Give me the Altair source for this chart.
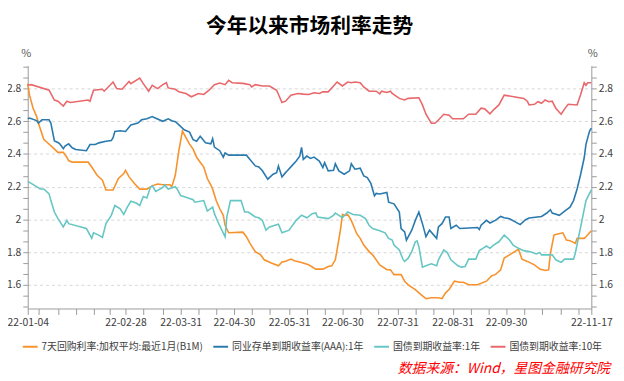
import altair as alt
import pandas as pd

TITLE = "今年以来市场利率走势"
SOURCE = "数据来源：Wind，星图金融研究院"
names = ["7天回购利率:加权平均:最近1月(B1M)", "同业存单到期收益率(AAA):1年",
         "国债到期收益率:1年", "国债到期收益率:10年"]
colors = ["#F7922C", "#2A7AAE", "#66C6C4", "#E8686B"]

repo = [("01-04", 2.83), ("01-05", 2.76), ("01-07", 2.68), ("01-09", 2.63), ("01-10", 2.59),
        ("01-13", 2.49), ("01-15", 2.47), ("01-18", 2.44), ("01-21", 2.41), ("01-24", 2.41),
        ("01-26", 2.38), ("01-27", 2.36), ("01-29", 2.35), ("02-07", 2.35), ("02-09", 2.32),
        ("02-12", 2.27), ("02-15", 2.24), ("02-17", 2.18), ("02-21", 2.18), ("02-24", 2.25),
        ("02-27", 2.28), ("02-28", 2.30), ("03-02", 2.26), ("03-05", 2.22), ("03-08", 2.185),
        ("03-12", 2.185), ("03-15", 2.205), ("03-18", 2.216), ("03-21", 2.212), ("03-25", 2.212),
        ("03-26", 2.20), ("03-28", 2.27), ("03-30", 2.42), ("03-31", 2.48), ("04-01", 2.54),
        ("04-03", 2.50), ("04-05", 2.46), ("04-07", 2.43), ("04-09", 2.38), ("04-11", 2.35),
        ("04-13", 2.32), ("04-15", 2.25), ("04-17", 2.21), ("04-18", 2.185), ("04-20", 2.115),
        ("04-22", 2.065), ("04-24", 2.025), ("04-25", 1.964), ("04-27", 1.918), ("05-05", 1.922),
        ("05-07", 1.894), ("05-09", 1.853), ("05-12", 1.803), ("05-15", 1.783), ("05-17", 1.753),
        ("05-21", 1.733), ("05-25", 1.716), ("05-27", 1.74), ("05-29", 1.744), ("06-01", 1.757),
        ("06-03", 1.747), ("06-07", 1.737), ("06-11", 1.722), ("06-15", 1.696), ("06-19", 1.696),
        ("06-22", 1.712), ("06-24", 1.716), ("06-26", 1.753), ("06-27", 1.813), ("06-29", 1.944),
        ("06-30", 2.03), ("07-02", 2.024), ("07-03", 2.03), ("07-05", 1.994), ("07-08", 1.914),
        ("07-10", 1.884), ("07-12", 1.843), ("07-15", 1.803), ("07-17", 1.783), ("07-21", 1.722),
        ("07-25", 1.692), ("07-27", 1.692), ("07-29", 1.662), ("08-02", 1.662), ("08-04", 1.622),
        ("08-06", 1.60), ("08-10", 1.57), ("08-13", 1.541), ("08-16", 1.515), ("08-19", 1.521),
        ("08-23", 1.521), ("08-25", 1.515), ("08-27", 1.551), ("08-29", 1.571), ("09-01", 1.622),
        ("09-04", 1.616), ("09-06", 1.616), ("09-09", 1.60), ("09-14", 1.60), ("09-19", 1.622),
        ("09-22", 1.656), ("09-24", 1.662), ("09-27", 1.692), ("09-29", 1.763), ("10-02", 1.783),
        ("10-07", 1.817), ("10-09", 1.757), ("10-12", 1.743), ("10-16", 1.722), ("10-19", 1.696),
        ("10-22", 1.688), ("10-24", 1.692), ("10-25", 1.793), ("10-27", 1.904), ("10-29", 1.91),
        ("11-01", 1.918), ("11-03", 1.874), ("11-05", 1.87), ("11-08", 1.853), ("11-09", 1.884),
        ("11-13", 1.884), ("11-14", 1.894), ("11-17", 1.93)]

ncd = [("01-04", 2.615), ("01-05", 2.62), ("01-09", 2.604), ("01-10", 2.589), ("01-12", 2.609),
       ("01-16", 2.609), ("01-17", 2.589), ("01-19", 2.48), ("01-21", 2.47), ("01-22", 2.462),
       ("01-24", 2.433), ("01-25", 2.448), ("01-27", 2.462), ("01-29", 2.438), ("01-31", 2.427),
       ("02-06", 2.42), ("02-08", 2.458), ("02-11", 2.458), ("02-13", 2.468), ("02-17", 2.478),
       ("02-20", 2.482), ("02-21", 2.50), ("02-22", 2.538), ("02-25", 2.542), ("02-28", 2.538),
       ("03-03", 2.578), ("03-07", 2.589), ("03-09", 2.609), ("03-12", 2.615), ("03-15", 2.629),
       ("03-17", 2.619), ("03-21", 2.60), ("03-24", 2.615), ("03-26", 2.603), ("03-28", 2.598),
       ("03-29", 2.589), ("04-02", 2.548), ("04-05", 2.534), ("04-07", 2.488), ("04-09", 2.478),
       ("04-11", 2.508), ("04-14", 2.468), ("04-17", 2.462), ("04-18", 2.494), ("04-19", 2.442),
       ("04-22", 2.42), ("04-24", 2.381), ("04-25", 2.407), ("04-27", 2.393), ("05-07", 2.393),
       ("05-09", 2.367), ("05-12", 2.327), ("05-14", 2.321), ("05-16", 2.297), ("05-19", 2.246),
       ("05-22", 2.276), ("05-24", 2.286), ("05-25", 2.327), ("05-27", 2.26), ("05-29", 2.286),
       ("05-30", 2.297), ("06-01", 2.321), ("06-04", 2.357), ("06-06", 2.387), ("06-07", 2.44),
       ("06-08", 2.367), ("06-10", 2.387), ("06-12", 2.373), ("06-14", 2.381), ("06-17", 2.357),
       ("06-19", 2.317), ("06-20", 2.347), ("06-22", 2.297), ("06-25", 2.30), ("06-26", 2.34),
       ("06-28", 2.297), ("07-01", 2.276), ("07-04", 2.297), ("07-05", 2.34), ("07-07", 2.307),
       ("07-10", 2.313), ("07-12", 2.266), ("07-14", 2.256), ("07-16", 2.22), ("07-18", 2.145),
       ("07-19", 2.159), ("07-21", 2.155), ("07-25", 2.165), ("07-26", 2.105), ("07-29", 2.095),
       ("08-01", 2.045), ("08-02", 1.944), ("08-04", 1.924), ("08-05", 1.873), ("08-08", 1.934),
       ("08-10", 1.994), ("08-12", 2.045), ("08-14", 1.974), ("08-16", 1.894), ("08-18", 1.934),
       ("08-22", 1.884), ("08-23", 1.954), ("08-25", 1.974), ("08-26", 1.994), ("08-27", 2.015),
       ("08-29", 2.015), ("08-30", 1.944), ("09-02", 1.964), ("09-04", 1.944), ("09-14", 1.95),
       ("09-15", 1.938), ("09-16", 1.964), ("09-19", 1.994), ("09-21", 1.978), ("09-24", 1.994),
       ("09-27", 2.018), ("09-29", 2.01), ("10-02", 2.004), ("10-08", 1.968), ("10-11", 1.998),
       ("10-13", 2.008), ("10-20", 2.018), ("10-23", 2.039), ("10-25", 2.059), ("10-26", 2.039),
       ("10-30", 2.025), ("11-02", 2.051), ("11-05", 2.075), ("11-07", 2.115), ("11-09", 2.186),
       ("11-11", 2.276), ("11-13", 2.377), ("11-14", 2.46), ("11-15", 2.50), ("11-16", 2.54),
       ("11-17", 2.558)]

gov1y = [("01-04", 2.232), ("01-05", 2.226), ("01-09", 2.20), ("01-11", 2.186), ("01-13", 2.186),
         ("01-16", 2.156), ("01-17", 2.115), ("01-19", 2.045), ("01-21", 2.005), ("01-24", 1.954),
         ("01-26", 1.994), ("01-27", 1.974), ("02-06", 1.944), ("02-09", 1.884), ("02-10", 1.918),
         ("02-13", 1.904), ("02-15", 1.889), ("02-17", 1.974), ("02-20", 2.025), ("02-22", 2.085),
         ("02-25", 2.065), ("02-27", 2.03), ("03-01", 2.075), ("03-03", 2.111), ("03-06", 2.10),
         ("03-08", 2.085), ("03-10", 2.14), ("03-12", 2.131), ("03-14", 2.196), ("03-15", 2.206),
         ("03-17", 2.171), ("03-21", 2.196), ("03-22", 2.212), ("03-24", 2.186), ("03-28", 2.20),
         ("03-29", 2.186), ("03-31", 2.146), ("04-03", 2.136), ("04-07", 2.12), ("04-08", 2.105),
         ("04-13", 2.115), ("04-15", 2.051), ("04-18", 2.075), ("04-19", 2.035), ("04-21", 1.984),
         ("04-25", 1.894), ("04-26", 2.015), ("04-28", 2.115), ("05-04", 2.115), ("05-06", 2.045),
         ("05-08", 2.045), ("05-10", 2.03), ("05-12", 2.015), ("05-14", 2.01), ("05-16", 1.994),
         ("05-18", 1.934), ("05-20", 1.954), ("05-24", 1.967), ("05-25", 1.97), ("05-27", 1.918),
         ("05-31", 1.934), ("06-04", 1.994), ("06-07", 2.025), ("06-10", 2.01), ("06-13", 2.035),
         ("06-15", 2.039), ("06-16", 2.014), ("06-22", 2.005), ("06-25", 2.025), ("06-26", 2.039),
         ("06-28", 2.025), ("06-30", 2.01), ("07-03", 2.045), ("07-06", 2.03), ("07-10", 2.025),
         ("07-13", 2.005), ("07-15", 1.964), ("07-17", 1.944), ("07-21", 1.93), ("07-24", 1.918),
         ("07-26", 1.884), ("07-28", 1.874), ("07-29", 1.843), ("08-01", 1.813), ("08-03", 1.757),
         ("08-04", 1.743), ("08-06", 1.763), ("08-08", 1.803), ("08-10", 1.863), ("08-11", 1.869),
         ("08-12", 1.833), ("08-14", 1.708), ("08-16", 1.716), ("08-19", 1.728), ("08-22", 1.716),
         ("08-23", 1.753), ("08-26", 1.813), ("08-28", 1.797), ("08-30", 1.753), ("09-03", 1.716),
         ("09-05", 1.708), ("09-07", 1.712), ("09-09", 1.757), ("09-13", 1.757), ("09-15", 1.809),
         ("09-17", 1.823), ("09-19", 1.837), ("09-21", 1.823), ("09-23", 1.843), ("09-26", 1.863),
         ("09-29", 1.904), ("10-02", 1.874), ("10-04", 1.843), ("10-07", 1.823), ("10-10", 1.809),
         ("10-13", 1.803), ("10-15", 1.797), ("10-17", 1.789), ("10-19", 1.797), ("10-20", 1.783),
         ("10-26", 1.783), ("10-28", 1.753), ("10-31", 1.737), ("11-02", 1.757), ("11-07", 1.757),
         ("11-08", 1.793), ("11-11", 1.954), ("11-14", 2.115), ("11-17", 2.18)]

gov10y = [("01-04", 2.82), ("01-06", 2.824), ("01-16", 2.79), ("01-19", 2.73), ("01-21", 2.723),
          ("01-24", 2.693), ("01-26", 2.723), ("01-28", 2.715), ("02-07", 2.73), ("02-08", 2.723),
          ("02-10", 2.79), ("02-15", 2.796), ("02-16", 2.784), ("02-21", 2.84), ("02-23", 2.80),
          ("02-26", 2.796), ("03-02", 2.844), ("03-03", 2.83), ("03-08", 2.864), ("03-10", 2.83),
          ("03-13", 2.784), ("03-15", 2.82), ("03-18", 2.80), ("03-21", 2.824), ("03-23", 2.836),
          ("03-24", 2.804), ("03-28", 2.796), ("03-30", 2.78), ("04-03", 2.77), ("04-06", 2.75),
          ("04-10", 2.77), ("04-13", 2.764), ("04-16", 2.79), ("04-19", 2.824), ("04-22", 2.834),
          ("04-25", 2.824), ("04-27", 2.85), ("04-29", 2.836), ("05-05", 2.832), ("05-09", 2.824),
          ("05-10", 2.81), ("05-12", 2.824), ("05-16", 2.816), ("05-20", 2.816), ("05-24", 2.79),
          ("05-27", 2.715), ("05-29", 2.723), ("06-01", 2.76), ("06-05", 2.77), ("06-08", 2.766),
          ("06-11", 2.764), ("06-14", 2.774), ("06-17", 2.77), ("06-19", 2.78), ("06-22", 2.78),
          ("06-25", 2.816), ("06-27", 2.84), ("06-30", 2.816), ("07-03", 2.84), ("07-05", 2.836),
          ("07-07", 2.84), ("07-10", 2.836), ("07-12", 2.81), ("07-15", 2.784), ("07-19", 2.784),
          ("07-21", 2.768), ("07-22", 2.784), ("07-25", 2.776), ("07-27", 2.784), ("07-28", 2.77),
          ("08-01", 2.74), ("08-04", 2.73), ("08-06", 2.74), ("08-12", 2.744), ("08-14", 2.70),
          ("08-16", 2.643), ("08-19", 2.588), ("08-21", 2.588), ("08-23", 2.608), ("08-26", 2.643),
          ("08-29", 2.637), ("08-31", 2.615), ("09-06", 2.615), ("09-09", 2.643), ("09-13", 2.643),
          ("09-14", 2.655), ("09-16", 2.68), ("09-18", 2.676), ("09-21", 2.646), ("09-23", 2.67),
          ("09-26", 2.70), ("09-29", 2.76), ("10-10", 2.74), ("10-12", 2.723), ("10-13", 2.70),
          ("10-16", 2.704), ("10-18", 2.72), ("10-20", 2.71), ("10-22", 2.73), ("10-24", 2.72),
          ("10-26", 2.723), ("10-28", 2.68), ("10-31", 2.643), ("11-02", 2.676), ("11-04", 2.704),
          ("11-09", 2.70), ("11-11", 2.764), ("11-13", 2.836), ("11-14", 2.82), ("11-15", 2.836),
          ("11-17", 2.836)]

x_tick_dates = ["01-04", "01-10", "01-21", "01-31", "02-10", "02-19", "02-28", "03-10", "03-21",
                "03-31", "04-10", "04-20", "04-30", "05-10", "05-20", "05-31", "06-10", "06-20",
                "06-30", "07-10", "07-20", "07-31", "08-10", "08-20", "08-31", "09-10", "09-20",
                "09-30", "10-10", "10-20", "10-31", "11-10", "11-17"]
x_label_dates = ["01-04", "02-28", "03-31", "04-30", "05-31", "06-30", "07-31", "08-31",
                 "09-30", "11-17"]
y_ticks = [1.4667, 1.5333, 1.6, 1.6667, 1.7333, 1.8, 1.8667, 1.9333, 2.0, 2.0667, 2.1333,
           2.2, 2.2667, 2.3333, 2.4, 2.4667, 2.5333, 2.6, 2.6667, 2.7333, 2.8, 2.8667, 2.9333]
y_domain = [1.455, 2.94]

rows = []
for name, series in zip(names, [repo, ncd, gov1y, gov10y]):
    for d, v in series:
        rows.append({"series": name, "date": "2022-" + d + "T00:00:00", "value": v})
df = pd.DataFrame(rows)


def dt(md):
    m, d = md.split("-")
    return alt.DateTime(year=2022, month=int(m), date=int(d))


FONT = "Noto Sans CJK SC"
AXIS_GRAY = "#9a9a9a"
LABEL_COLOR = "#404040"

major_test = "abs(datum.value*5 - round(datum.value*5)) < 0.01"
label_expr = f"{major_test} ? format(round(datum.value*10)/10, '~g') : ''"
x_label_list = "[" + ",".join(f"'{d}'" for d in x_label_dates) + "]"
x_label_expr = (f"indexof({x_label_list}, timeFormat(datum.value, '%m-%d')) >= 0"
                " ? timeFormat(datum.value, '%y-%m-%d') : ''")

x_enc = alt.X(
    "date:T",
    scale=alt.Scale(domain=[dt("01-04"), dt("11-17")]),
    axis=alt.Axis(values=[dt(d) for d in x_tick_dates], labelExpr=x_label_expr, title=None,
                  grid=False, tickSize=6, tickColor=AXIS_GRAY, domainColor=AXIS_GRAY,
                  labelFontSize=10.5, labelColor=LABEL_COLOR, labelFont=FONT, labelPadding=3,
                  labelFlush=False, labelOverlap=False),
)
y_scale = alt.Scale(domain=y_domain, nice=False, zero=False)

common_y_axis = dict(values=y_ticks, labelExpr=label_expr, tickSize=5, tickColor=AXIS_GRAY,
                     domainColor=AXIS_GRAY, labelFontSize=10.5, labelColor=LABEL_COLOR,
                     labelFont=FONT, labelPadding=2, title="%", titleAngle=0,
                     titleFontWeight="normal", titleFontSize=11, titleColor="#555555",
                     titleFont=FONT, titleAlign="center", titleBaseline="middle",
                     titleY=-12, labelOverlap=False)

left_axis = alt.Axis(orient="left", grid=True, gridDash=[3, 3], gridColor="#d6d6d6",
                     gridOpacity={"condition": {"test": major_test, "value": 1}, "value": 0},
                     titleX=-2, **common_y_axis)
right_axis = alt.Axis(orient="right", grid=False, titleX=1, **common_y_axis)

lines = alt.Chart(df).mark_line(strokeWidth=1.6).encode(
    x=x_enc,
    y=alt.Y("value:Q", scale=y_scale, axis=left_axis),
    color=alt.Color("series:N", scale=alt.Scale(domain=names, range=colors),
                    sort=names,
                    legend=alt.Legend(orient="none", legendX=-6, legendY=276, direction="horizontal",
                                      columns=4, title=None, symbolType="stroke", symbolSize=225,
                                      symbolStrokeWidth=2, labelFontSize=10, labelFont=FONT,
                                      labelColor=LABEL_COLOR, columnPadding=6, labelOffset=3,
                                      labelLimit=400, padding=0)),
    order=alt.Order("date:T"),
)

right = alt.Chart(df).mark_line(opacity=0).encode(
    x=x_enc,
    y=alt.Y("value:Q", scale=y_scale, axis=right_axis),
    detail="series:N",
)

source = alt.Chart(alt.Data(values=[{"t": SOURCE}])).mark_text(
    align="right", baseline="middle", fontStyle="italic", fontSize=14, font=FONT,
    color="#FF0000",
).encode(text="t:N", x=alt.value(590), y=alt.value(307))

chart = alt.layer(lines, right, source).resolve_scale(y="independent").properties(
    width=571, height=246,
    title=alt.TitleParams(TITLE, fontSize=21, font=FONT, fontWeight="bold", color="#000000",
                          anchor="middle", offset=11),
    autosize=alt.AutoSizeParams(type="none"),
    padding={"left": 20, "top": 56, "right": 25, "bottom": 71},
).configure_view(strokeWidth=0)

chart.save("out.html", embed_options={"renderer": "svg", "actions": False})
